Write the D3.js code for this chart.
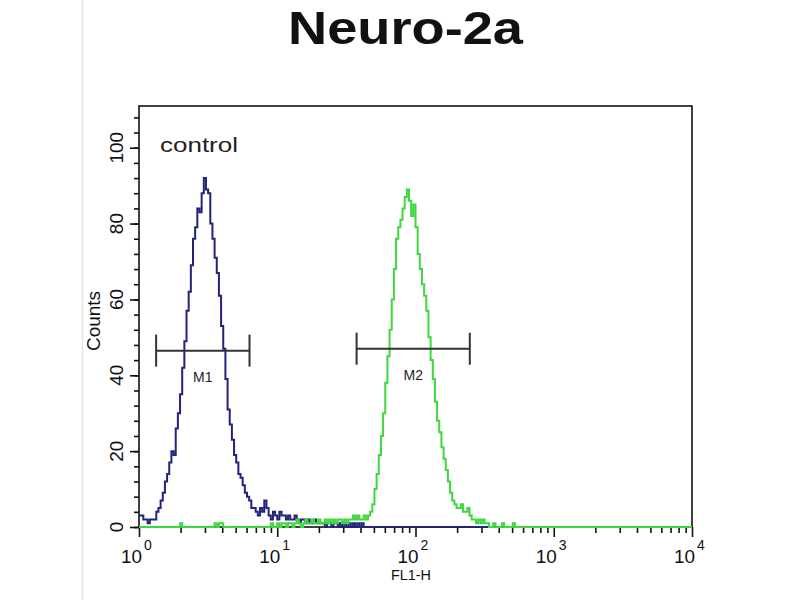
<!DOCTYPE html>
<html>
<head>
<meta charset="utf-8">
<script src="https://cdn.jsdelivr.net/npm/d3@7"></script>
<style>
  body { margin: 0; background: #fff; }
  text { font-family: "Liberation Sans", Arial, sans-serif; }
</style>
</head>
<body>
<div id="chart"></div>
<script>
// ------------- data -------------
const title = "Neuro-2a";
const xLabel = "FL1-H";
const yLabel = "Counts";
const decades = [1, 10, 100, 1000, 10000];
const decadeExp = ["0", "1", "2", "3", "4"];
const yTicks = [0, 20, 40, 60, 80, 100];
const channels = 256;

// control (blue) counts per channel, starting at channel 0
const blueCounts = [3, 3, 2, 2, 1, 2, 2, 2, 4, 5, 7, 9, 12, 14, 17, 20, 19, 26, 30, 35,
  42, 49, 57, 62, 69, 76, 79, 84, 83, 88, 92, 89, 88, 80, 76, 71, 67, 61, 53, 47,
  39, 31, 27, 23, 19, 17, 14, 13, 11, 9, 8, 7, 5, 5, 4, 3, 5, 4, 7, 5,
  3, 2, 4, 3, 2, 4, 3, 3, 2, 3, 2, 2, 3, 2, 1, 2, 2, 1, 2, 1,
  1, 2, 1, 1, 1, 1, 0, 1, 1, 0, 1, 1, 0, 1, 0, 1, 0, 1, 0, 1,
  0, 1, 0, 1, 0, 0];

// sample (green) counts per channel, starting at channel 0
const greenCounts = [0, 0, 0, 0, 0, 0, 0, 0, 0, 0, 0, 0, 0, 0, 0, 0, 0, 0, 0, 1,
  0, 0, 0, 0, 0, 0, 0, 0, 0, 0, 0, 0, 0, 0, 0, 1, 0, 1, 1, 0,
  0, 0, 0, 0, 0, 0, 0, 0, 0, 0, 0, 0, 0, 0, 0, 0, 0, 0, 0, 0,
  0, 1, 0, 0, 1, 0, 1, 1, 0, 1, 1, 0, 1, 2, 1, 0, 1, 2, 1, 1,
  2, 1, 1, 2, 1, 1, 2, 1, 2, 1, 2, 1, 2, 2, 1, 2, 1, 2, 2, 3,
  2, 3, 2, 2, 3, 2, 3, 4, 6, 10, 14, 19, 24, 30, 38, 45, 52, 60, 68, 76,
  79, 81, 84, 87, 89, 86, 82, 85, 79, 72, 68, 64, 61, 57, 50, 44, 39, 33, 28, 25,
  21, 18, 15, 12, 9, 7, 6, 5, 5, 6, 4, 4, 5, 3, 2, 2, 1, 2, 1, 2,
  1, 1, 0, 0, 1, 0, 0, 0, 1, 0, 0, 0, 0, 1, 0];

// gates: [from, to, count at bar]
const gateNames = ["M1", "M2"];
const gateFrom = [1.33, 37.5];
const gateTo = [6.3, 247];
const gateLevel = [46.5, 47];

// ------------- layout -------------
const width = 800, height = 600;
const margin = { top: 106, right: 108, bottom: 73, left: 139 };

const svg = d3.select("#chart").append("svg")
  .attr("width", width)
  .attr("height", height);

// faint scan border at left
svg.append("line")
  .attr("x1", 82.5).attr("x2", 82.5)
  .attr("y1", 0).attr("y2", height)
  .style("stroke", "#e4e4e4").style("stroke-width", 1.5);

const x = d3.scaleLog()
  .domain([1, 10000])
  .range([margin.left, width - margin.right]);

const y = d3.scaleLinear()
  .domain([0, 111])
  .range([height - margin.bottom, margin.top]);

// channel i starts at 10^(4*i/256)
function chanX(i) {
  return x(Math.pow(10, 4 * i / channels));
}

function fullSeries(arr) {
  const out = [];
  for (let i = 0; i < channels; i++) out.push(i < arr.length ? arr[i] : 0);
  out.push(out[channels - 1]);
  return out;
}

const histLine = d3.line()
  .x((d, i) => chanX(i))
  .y(d => y(d))
  .curve(d3.curveStepAfter);

//title
svg.append("text")
  .attr("x", 288)
  .attr("y", 44)
  .attr("textLength", 235)
  .attr("lengthAdjust", "spacingAndGlyphs")
  .style("font-size", "46px")
  .style("font-weight", "bold")
  .style("fill", "#111")
  .text(title);

//plot frame (under the histograms so the green baseline shows)
svg.append("rect")
  .attr("x", x(1))
  .attr("y", y(111))
  .attr("width", x(10000) - x(1))
  .attr("height", y(0) - y(111))
  .style("fill", "none")
  .style("stroke", "#111")
  .style("stroke-width", 1.6);

//x axis ticks
const xAxisG = svg.append("g")
  .attr("transform", `translate(0,${y(0)})`);
const minorX = [];
decades.slice(0, -1).forEach(d => {
  for (let k = 2; k <= 9; k++) minorX.push(d * k);
});
xAxisG.append("g")
  .call(d3.axisBottom(x).tickValues(minorX).tickSize(6).tickFormat(""));
xAxisG.append("g")
  .call(d3.axisBottom(x).tickValues(decades).tickSize(10).tickFormat(""));
xAxisG.selectAll(".domain").remove();
xAxisG.selectAll("line").style("stroke", "#111").style("stroke-width", 1.6);

//x tick labels 10^n
decades.forEach((d, i) => {
  svg.append("text")
    .attr("x", x(d) + 3)
    .attr("y", 563)
    .attr("text-anchor", "end")
    .attr("textLength", 21)
    .attr("lengthAdjust", "spacingAndGlyphs")
    .style("font-size", "18px")
    .style("fill", "#111")
    .text("10");
  svg.append("text")
    .attr("x", x(d) + 5)
    .attr("y", 550)
    .style("font-size", "14px")
    .style("fill", "#111")
    .text(decadeExp[i]);
});

//x axis title
svg.append("text")
  .attr("x", 411)
  .attr("y", 580)
  .attr("text-anchor", "middle")
  .attr("textLength", 40)
  .attr("lengthAdjust", "spacingAndGlyphs")
  .style("font-size", "15px")
  .style("fill", "#111")
  .text(xLabel);

//y axis ticks
const yAxisG = svg.append("g")
  .attr("transform", `translate(${x(1)},0)`);
yAxisG.append("g")
  .call(d3.axisLeft(y).tickValues(d3.range(0, 109, 4)).tickSize(5).tickFormat(""));
yAxisG.append("g")
  .call(d3.axisLeft(y).tickValues(yTicks).tickSize(9).tickFormat(""));
yAxisG.selectAll(".domain").remove();
yAxisG.selectAll("line").style("stroke", "#111").style("stroke-width", 1.6);

//y tick labels, rotated
yTicks.forEach(v => {
  svg.append("text")
    .attr("transform", `translate(123,${y(v)}) rotate(-90)`)
    .attr("text-anchor", "middle")
    .style("font-size", "19px")
    .style("fill", "#111")
    .text(v);
});

//y axis title
svg.append("text")
  .attr("transform", `translate(100,321) rotate(-90)`)
  .attr("text-anchor", "middle")
  .style("font-size", "19px")
  .style("fill", "#111")
  .text(yLabel);

//histograms, blue first and green on top
svg.append("path")
  .datum(fullSeries(blueCounts))
  .attr("d", histLine)
  .style("fill", "none")
  .style("stroke", "#23237e")
  .style("stroke-width", 2);

svg.append("path")
  .datum(fullSeries(greenCounts))
  .attr("d", histLine)
  .style("fill", "none")
  .style("stroke", "#3ed83e")
  .style("stroke-width", 2);

//control label
svg.append("text")
  .attr("x", 160)
  .attr("y", 152)
  .attr("textLength", 78)
  .attr("lengthAdjust", "spacingAndGlyphs")
  .style("font-size", "21px")
  .style("fill", "#222")
  .text("control");

//gates
gateNames.forEach((name, i) => {
  const gy = y(gateLevel[i]);
  const g = svg.append("g").style("stroke", "#333").style("stroke-width", 2);
  g.append("line")
    .attr("x1", x(gateFrom[i])).attr("x2", x(gateTo[i]))
    .attr("y1", gy).attr("y2", gy);
  g.append("line")
    .attr("x1", x(gateFrom[i])).attr("x2", x(gateFrom[i]))
    .attr("y1", gy - 16).attr("y2", gy + 16);
  g.append("line")
    .attr("x1", x(gateTo[i])).attr("x2", x(gateTo[i]))
    .attr("y1", gy - 16).attr("y2", gy + 16);
  svg.append("text")
    .attr("x", (x(gateFrom[i]) + x(gateTo[i])) / 2)
    .attr("y", gy + 31)
    .attr("text-anchor", "middle")
    .style("font-size", "14px")
    .style("fill", "#222")
    .text(name);
});
</script>
</body>
</html>
